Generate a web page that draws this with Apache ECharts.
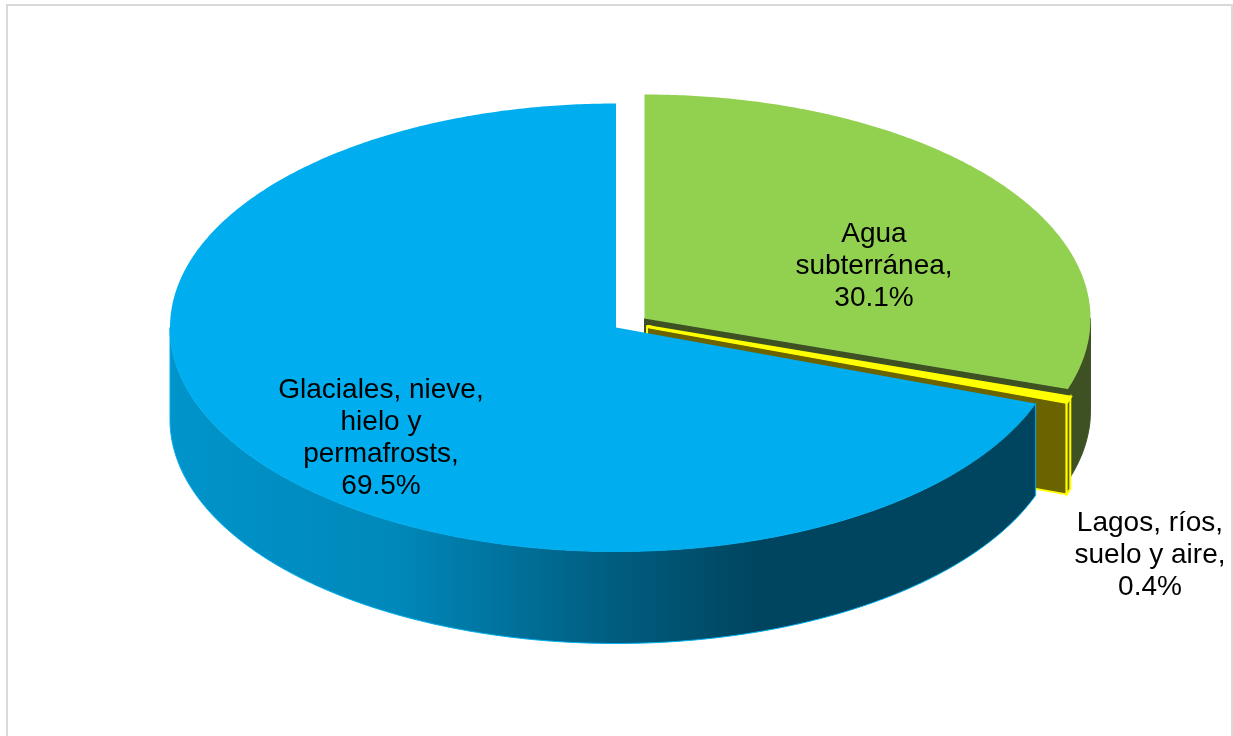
<!DOCTYPE html>
<html>
<head>
<meta charset="utf-8">
<style>html,body{margin:0;padding:0;background:#fff}#c{width:1233px;height:736px}</style>
<script src="https://cdn.jsdelivr.net/npm/echarts@6/dist/echarts.min.js"></script>
</head>
<body>
<div id="c"></div>
<script>
const categories = ['Agua\nsubterránea', 'Lagos, ríos,\nsuelo y aire', 'Glaciales, nieve,\nhielo y\npermafrosts'];
const values = [30.1, 0.4, 69.5];

// Layout of the tilted pie (like a pie's center/radius options)
const RX = 446, RY = 224, DEPTH = 92;
const centers = [[644.5, 318.5], [647, 326.5], [616, 327.5]];
const labelCenters = [[874, 266], [1150, 555], [381, 438]];
const topColors = ['#92d050', '#ffff00', '#00aeef'];
const total = values.reduce((a, b) => a + b, 0);
const starts = values.map((_, i) => values.slice(0, i).reduce((a, b) => a + b, 0) / total * 360);

function pt(c, deg, dz) {
  const r = deg * Math.PI / 180;
  return [c[0] + RX * Math.sin(r), c[1] - RY * Math.cos(r) + (dz || 0)];
}
function arc(c, a0, a1, dz) {
  const pts = [], n = Math.max(2, Math.ceil(Math.abs(a1 - a0) * 2));
  for (let k = 0; k <= n; k++) pts.push(pt(c, a0 + (a1 - a0) * k / n, dz));
  return pts;
}
const blueWall = new echarts.graphic.LinearGradient(170, 0, 1035, 0, [
  { offset: 0, color: '#0094ca' },
  { offset: 0.26, color: '#0088ba' },
  { offset: 0.5, color: '#005f82' },
  { offset: 0.68, color: '#00455f' },
  { offset: 1, color: '#00455f' }
], true);
const wallStyles = [
  { fill: '#3e5122', stroke: '#3e5122', lineWidth: 1 },
  { fill: '#6b6200', stroke: '#ffff00', lineWidth: 2 },
  { fill: blueWall, stroke: '#00aeef', lineWidth: 1 }
];

function renderSlice(params, api) {
  const i = params.dataIndex;
  const a0 = starts[i], a1 = a0 + api.value(0) / total * 360;
  const c = centers[i];
  const children = [];
  const poly = (points, style) => children.push({ type: 'polygon', shape: { points }, style });
  // cut face at the end angle (faces the viewer on the lower-left)
  if (i < 2) {
    const o = pt(c, a1);
    poly([c, o, [o[0], o[1] + DEPTH], [c[0], c[1] + DEPTH]], wallStyles[i]);
  }
  // outer wall: only the front half of the rim shows
  const w0 = Math.max(a0, 90), w1 = Math.min(a1, 270);
  if (w1 > w0) {
    poly(arc(c, w0, w1, 0).concat(arc(c, w1, w0, DEPTH)), wallStyles[i]);
  }
  // top face
  poly([c].concat(arc(c, a0, a1, 0)), {
    fill: topColors[i],
    stroke: topColors[i],
    lineWidth: i === 1 ? 3 : 0
  });
  const lc = labelCenters[i];
  children.push({
    type: 'text',
    z2: 10,
    style: {
      text: categories[i] + ',\n' + api.value(0).toFixed(1) + '%',
      x: lc[0], y: lc[1],
      align: 'center', verticalAlign: 'middle',
      font: '28px "Liberation Sans", Arial, sans-serif',
      lineHeight: 32,
      fill: '#000'
    }
  });
  return { type: 'group', children };
}

const chart = echarts.init(document.getElementById('c'), null, { renderer: 'canvas' });
chart.setOption({
  animation: false,
  backgroundColor: '#fff',
  graphic: [{
    type: 'rect',
    shape: { x: 7, y: 5, width: 1225, height: 760 },
    style: { fill: 'none', stroke: '#d9d9d9', lineWidth: 2 },
    silent: true,
    z: -1
  }],
  series: [{
    type: 'custom',
    coordinateSystem: 'none',
    silent: true,
    clip: false,
    renderItem: renderSlice,
    data: values.map((v, i) => ({ name: categories[i], value: [v] }))
  }]
});
</script>
</body>
</html>
